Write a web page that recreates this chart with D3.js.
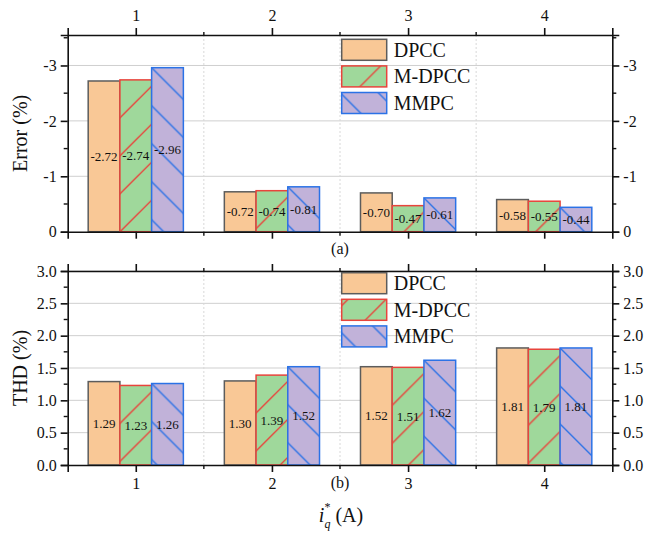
<!DOCTYPE html>
<html>
<head>
<meta charset="utf-8">
<script src="https://cdn.jsdelivr.net/npm/d3@7"></script>
<style>
  html, body { margin: 0; padding: 0; background: #fff; }
  svg text { font-family: "Liberation Serif", "Times New Roman", serif; fill: #111; }
</style>
</head>
<body>
<svg id="chart" width="645" height="533"></svg>
<script>
// Current reference levels (A)
const categories = [1, 2, 3, 4];
const seriesNames = ["DPCC", "M-DPCC", "MMPC"];

// (a) tracking error (%)
const errorDPCC  = [-2.72, -0.72, -0.70, -0.58];
const errorMDPCC = [-2.74, -0.74, -0.47, -0.55];
const errorMMPC  = [-2.96, -0.81, -0.61, -0.44];

// (b) current THD (%)
const thdDPCC  = [1.29, 1.30, 1.52, 1.81];
const thdMDPCC = [1.23, 1.39, 1.51, 1.79];
const thdMMPC  = [1.26, 1.52, 1.62, 1.81];

const errorTicks = [0, -1, -2, -3];
const thdTicks = [0.0, 0.5, 1.0, 1.5, 2.0, 2.5, 3.0];

const styles = [
  { fill: "#F9C896", stroke: "#5c5c5c", hatch: null },
  { fill: "#9FD89B", stroke: "#E8443C", hatch: "fwd" },
  { fill: "#C1B2D9", stroke: "#2B72E6", hatch: "back" }
];

const svg = d3.select("#chart");
const defs = svg.append("defs");

const X0 = 67.7, X1 = 612.3;
const x = d3.scaleLinear().domain([0.5, 4.5]).range([X0, X1]);
const barW = (x(2) - x(1)) * 0.233;

let patId = 0;
function hatchFill(kind, px, py, color) {
  const id = "hatch" + (patId++);
  const P = 38;
  const p = defs.append("pattern")
    .attr("id", id)
    .attr("patternUnits", "userSpaceOnUse")
    .attr("x", px).attr("y", py)
    .attr("width", P).attr("height", P);
  const d = kind === "fwd"
    ? `M0,${P} L${P},0 M-3,3 L3,-3 M${P-3},${P+3} L${P+3},${P-3}`
    : `M0,0 L${P},${P} M-3,${P-3} L3,${P+3} M${P-3},-3 L${P+3},3`;
  p.append("path").attr("d", d)
    .attr("stroke", color).attr("stroke-width", 1.4).attr("fill", "none");
  return `url(#${id})`;
}

function drawPanel(cfg) {
  const { y, yTop, yBottom, series, ticks, minorTicks, fmt, title, tag, tagY, topLabels, bottomLabels, legendY } = cfg;
  const g = svg.append("g");

  // horizontal grid
  g.selectAll(".hg").data(ticks.filter(t => t !== 0)).enter().append("line")
    .attr("x1", X0).attr("x2", X1)
    .attr("y1", d => y(d)).attr("y2", d => y(d))
    .attr("stroke", "#cfcfcf").attr("stroke-width", 1);
  // vertical dotted grid between groups
  g.selectAll(".vg").data([1.5, 2.5, 3.5]).enter().append("line")
    .attr("x1", d => x(d)).attr("x2", d => x(d))
    .attr("y1", yTop).attr("y2", yBottom)
    .attr("stroke", "#d8d8d8").attr("stroke-width", 1).attr("stroke-dasharray", "2,2");

  // bars
  series.forEach((vals, si) => {
    const st = styles[si];
    vals.forEach((v, ci) => {
      const bx = x(categories[ci]) + (si - 1.5) * barW;
      const by = Math.min(y(v), y(0));
      const bh = Math.abs(y(v) - y(0));
      g.append("rect").attr("x", bx).attr("y", by).attr("width", barW).attr("height", bh)
        .attr("fill", st.fill);
      if (st.hatch) {
        g.append("rect").attr("x", bx).attr("y", by).attr("width", barW).attr("height", bh)
          .attr("fill", hatchFill(st.hatch, bx, by, st.stroke));
      }
      g.append("rect").attr("x", bx).attr("y", by).attr("width", barW).attr("height", bh)
        .attr("fill", "none").attr("stroke", st.stroke).attr("stroke-width", 1.5);
      g.append("text")
        .attr("x", bx + barW / 2).attr("y", y(v / 2))
        .attr("dy", "0.35em").attr("text-anchor", "middle")
        .attr("font-size", 13).attr("fill", "#222")
        .text(v.toFixed(2));
    });
  });

  // axes
  const leftAxis = d3.axisLeft(y).tickValues(ticks).tickFormat(fmt).tickSize(7).tickPadding(4);
  const rightAxis = d3.axisRight(y).tickValues(ticks).tickFormat(fmt).tickSize(7).tickPadding(4);
  const bottomAxis = d3.axisBottom(x).tickValues(categories).tickSize(7)
    .tickFormat(bottomLabels ? d3.format("d") : () => "").tickPadding(6);
  const topAxis = d3.axisTop(x).tickValues(categories).tickSize(7)
    .tickFormat(topLabels ? d3.format("d") : () => "").tickPadding(7);

  const axes = [
    g.append("g").attr("transform", `translate(${X0},0)`).call(leftAxis),
    g.append("g").attr("transform", `translate(${X1},0)`).call(rightAxis),
    g.append("g").attr("transform", `translate(0,${yBottom})`).call(bottomAxis),
    g.append("g").attr("transform", `translate(0,${yTop})`).call(topAxis)
  ];
  axes.forEach(a => {
    a.select(".domain").attr("stroke", "#111").attr("stroke-width", 1.6);
    a.selectAll(".tick line").attr("stroke", "#111").attr("stroke-width", 1.6);
    a.selectAll(".tick text").attr("font-size", 16)
      .attr("font-family", '"Liberation Serif", "Times New Roman", serif').attr("fill", "#111");
  });

  // minor ticks
  minorTicks.forEach(t => {
    g.append("line").attr("x1", X0 - 4).attr("x2", X0).attr("y1", y(t)).attr("y2", y(t))
      .attr("stroke", "#111").attr("stroke-width", 1.4);
    g.append("line").attr("x1", X1).attr("x2", X1 + 4).attr("y1", y(t)).attr("y2", y(t))
      .attr("stroke", "#111").attr("stroke-width", 1.4);
  });
  [1.5, 2.5, 3.5].forEach(t => {
    g.append("line").attr("x1", x(t)).attr("x2", x(t)).attr("y1", yBottom).attr("y2", yBottom + 4)
      .attr("stroke", "#111").attr("stroke-width", 1.4);
    g.append("line").attr("x1", x(t)).attr("x2", x(t)).attr("y1", yTop - 3).attr("y2", yTop)
      .attr("stroke", "#111").attr("stroke-width", 1.4);
  });

  // y title
  g.append("text")
    .attr("transform", `translate(27,${(yTop + yBottom) / 2}) rotate(-90)`)
    .attr("text-anchor", "middle").attr("font-size", 20).text(title);

  // panel tag
  g.append("text").attr("x", 340).attr("y", tagY).attr("dy", "0.35em")
    .attr("text-anchor", "middle").attr("font-size", 16).text(tag);

  // legend
  const lg = g.append("g").attr("transform", `translate(341.7,${legendY})`);
  seriesNames.forEach((name, i) => {
    const st = styles[i];
    const ly = i * 26.6;
    lg.append("rect").attr("x", 0).attr("y", ly).attr("width", 45).attr("height", 21)
      .attr("fill", st.fill);
    if (st.hatch) {
      lg.append("rect").attr("x", 0).attr("y", ly).attr("width", 45).attr("height", 21)
        .attr("fill", hatchFill(st.hatch, 341.7, legendY + ly, st.stroke));
    }
    lg.append("rect").attr("x", 0).attr("y", ly).attr("width", 45).attr("height", 21)
      .attr("fill", "none").attr("stroke", st.stroke).attr("stroke-width", 1.5);
    lg.append("text").attr("x", 52).attr("y", ly + 17.5).attr("font-size", 20).text(name);
  });
}

// (a) error panel
const yErr = d3.scaleLinear().domain([0, -3.55]).range([231.7, 35]);
drawPanel({
  y: yErr, yTop: 35, yBottom: 231.7,
  series: [errorDPCC, errorMDPCC, errorMMPC],
  ticks: errorTicks, minorTicks: [-0.5, -1.5, -2.5, -3.5],
  fmt: d => String(d),
  title: "Error (%)", tag: "(a)", tagY: 248,
  topLabels: true, bottomLabels: false, legendY: 39.3
});

// (b) THD panel
const yThd = d3.scaleLinear().domain([0, 3]).range([465, 271]);
drawPanel({
  y: yThd, yTop: 271, yBottom: 465,
  series: [thdDPCC, thdMDPCC, thdMMPC],
  ticks: thdTicks, minorTicks: [0.25, 0.75, 1.25, 1.75, 2.25, 2.75],
  fmt: d3.format(".1f"),
  title: "THD (%)", tag: "(b)", tagY: 482,
  topLabels: false, bottomLabels: true, legendY: 272.7
});

// x-axis title: i*_q (A), with the star above the subscript q
const xt = svg.append("text").attr("x", 341).attr("y", 522)
  .attr("text-anchor", "middle").attr("font-size", 20);
xt.append("tspan").attr("font-style", "italic").text("i");
xt.append("tspan").attr("font-size", 12).attr("dy", -11).attr("dx", 0).text("*");
xt.append("tspan").attr("font-size", 12).attr("font-style", "italic").attr("dy", 17).attr("dx", -6).text("q");
xt.append("tspan").attr("dy", -6).text(" (A)");
</script>
</body>
</html>
